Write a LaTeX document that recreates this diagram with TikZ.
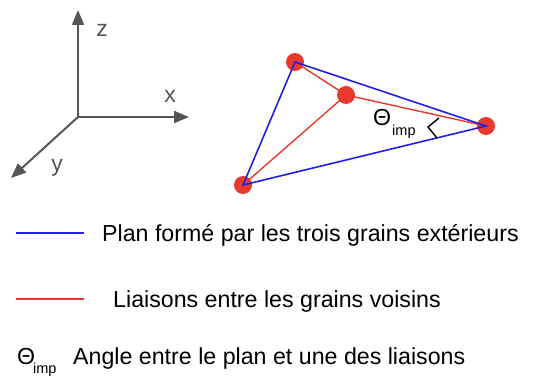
\documentclass[tikz,border=0pt]{standalone}
\usepackage{fontspec}
\setmainfont{Liberation Sans}
\usetikzlibrary{arrows.meta}
\definecolor{axisgray}{HTML}{555555}
\definecolor{grainred}{HTML}{E8392C}
\definecolor{planblue}{HTML}{2020E8}
\begin{document}
\begin{tikzpicture}[x=1pt,y=-1pt,
  axis/.style={draw=axisgray,line width=2pt,-{Triangle[length=15pt,width=12pt]}},
  lbl/.style={inner sep=0pt,font=\fontsize{23.2}{26}\selectfont},
  sub/.style={inner sep=0pt,font=\fontsize{14.5}{16}\selectfont},
  axlbl/.style={inner sep=0pt,text=axisgray,font=\fontsize{23}{26}\selectfont},
  grain/.style={circle,fill=grainred,minimum size=18pt,inner sep=0pt},
  bluel/.style={draw=planblue,line width=1.6pt,line join=miter},
  redl/.style={draw=grainred,line width=1.4pt}]
\useasboundingbox (0,0) rectangle (560,379);
% axes
\coordinate (O) at (78,117);
\coordinate (Z) at (78,10);
\coordinate (X) at (189,117);
\coordinate (Y) at (11,178);
\draw[axis] (O) -- (Z);
\draw[axis] (O) -- (X);
\draw[axis] (O) -- (Y);
\node[axlbl] (zl) at (102,30) {z};
\node[axlbl] (xl) at (170,96) {x};
\node[axlbl] (yl) at (57,168) {y};
% grains
\node[grain] (p1) at (295,62) {};
\node[grain] (p2) at (346,95) {};
\node[grain] (p3) at (486,126) {};
\node[grain] (p4) at (243,185) {};
\draw[redl] (p1.center) -- (p2.center) -- (p3.center);
\draw[redl] (p2.center) -- (p4.center);
\draw[bluel] (p1.center) -- (p3.center) -- (p4.center) -- cycle;
% angle
\node[lbl,anchor=base west] (th) at (373,126) {Θ};
\node[sub,anchor=base west] (thsub) at (392,136) {imp};
\coordinate (a1) at (439,118);
\coordinate (a2) at (428,127);
\coordinate (a3) at (437,138);
\draw[line width=1.4pt] (a1) -- (a2) -- (a3);
% legend
\coordinate (b1) at (16,233);
\coordinate (b2) at (84,233);
\draw[draw=planblue,line width=1.3pt] (b1) -- (b2);
\node[lbl,anchor=base west] (t1) at (102,242) {Plan formé par les trois grains extérieurs};
\coordinate (r1) at (16,299);
\coordinate (r2) at (84,299);
\draw[draw=grainred,line width=1.3pt] (r1) -- (r2);
\node[lbl,anchor=base west] (t2) at (113,308) {Liaisons entre les grains voisins};
\node[lbl,anchor=base west] (t3a) at (17,365) {Θ};
\node[sub,anchor=base west] (t3b) at (33,374) {imp};
\node[lbl,anchor=base west] (t3) at (73,365) {Angle entre le plan et une des liaisons};
\end{tikzpicture}
\end{document}
